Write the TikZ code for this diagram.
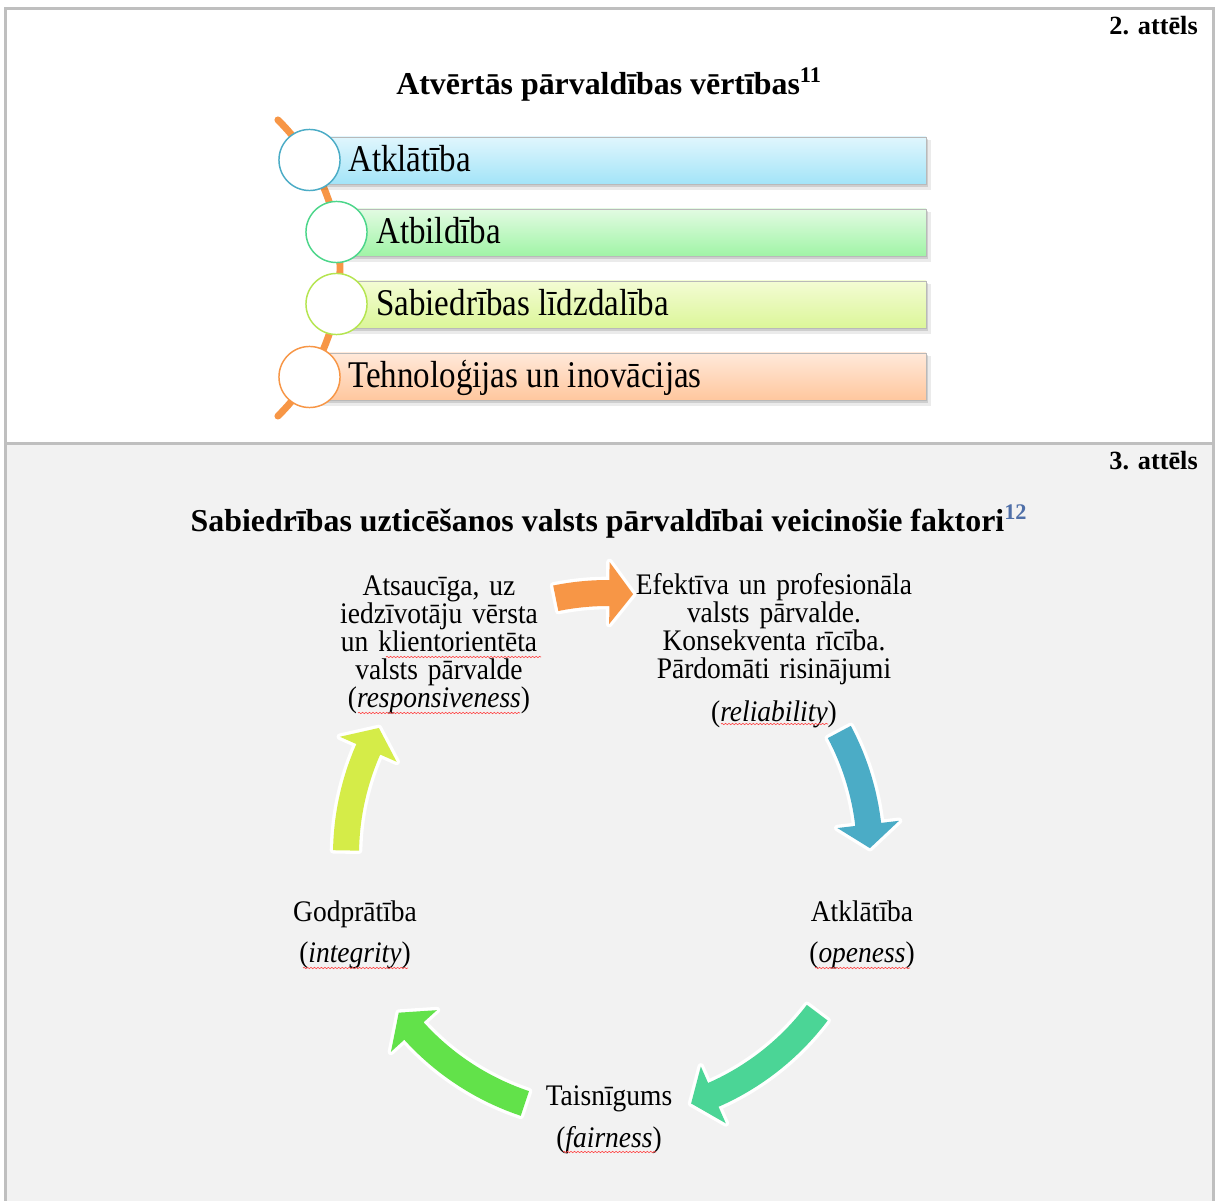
\documentclass[tikz,border=0pt]{standalone}
\usepackage{fontspec}
\setmainfont{Liberation Serif}
\usetikzlibrary{decorations.pathmorphing}
\definecolor{framecol}{HTML}{BFBFBF}
\definecolor{panel}{HTML}{F2F2F2}
\definecolor{cblue}{HTML}{4BACC6}
\definecolor{corange}{HTML}{F79646}
\definecolor{cteal}{HTML}{4BD596}
\definecolor{cgreen}{HTML}{62E24A}
\definecolor{cyellow}{HTML}{D5EC48}
\definecolor{cgreenring}{HTML}{4CD68A}
\definecolor{cyellowring}{HTML}{B5E550}
\definecolor{supblue}{HTML}{4F6FA8}
\definecolor{b1top}{HTML}{E0F6FD}
\definecolor{b1bot}{HTML}{A3E4F8}
\definecolor{b2top}{HTML}{E2FBE2}
\definecolor{b2bot}{HTML}{A0F4A6}
\definecolor{b3top}{HTML}{F3FCD4}
\definecolor{b3bot}{HTML}{DCF699}
\definecolor{b4top}{HTML}{FFE9DA}
\definecolor{b4bot}{HTML}{FFC79E}
\tikzset{
  figlabel/.style={font=\fontsize{19.7}{22}\selectfont\bfseries, inner sep=0pt, anchor=base east},
  figtitle/.style={font=\fontsize{23.9}{28}\selectfont\bfseries, inner sep=0pt, anchor=base},
  boxtext/.style={font=\fontsize{28.3}{30}\selectfont\addfontfeatures{FakeStretch=0.875}, inner sep=0pt, anchor=base west},
  ring/.style={circle, fill=white, line width=1.1pt, minimum size=45.8pt, inner sep=0pt},
  valbox/.style={line width=0.5pt, draw=gray!55},
  cyctext/.style={font=\fontsize{22.4}{21}\selectfont\addfontfeatures{FakeStretch=0.92}, inner sep=0pt, anchor=base, align=center, text width=260pt},
  spell/.style={red!75, line width=0.45pt, decorate, decoration={snake, amplitude=0.5pt, segment length=2.6pt}},
}
% circular arrow: #1 start angle, #2 tip angle, #3 colour
\newcommand\cycarrow[3]{%
  \pgfmathsetmacro\hb{#2-5.2}%
  \path[fill=#3, preaction={draw=white, line width=5pt, line join=round}]
    plot[domain=#1:\hb, samples=30] ({608+249*cos(\x)},{855+249*sin(\x)})
    -- ({608+231*cos(\hb)},{855+231*sin(\hb)})
    -- ({608+262*cos(#2)},{855+262*sin(#2)})
    -- ({608+293*cos(\hb)},{855+293*sin(\hb)})
    -- plot[domain=\hb:#1, samples=30] ({608+275*cos(\x)},{855+275*sin(\x)})
    -- cycle;}
\begin{document}
\begin{tikzpicture}[x=0.75pt,y=-0.75pt]
\useasboundingbox (0,0) rectangle (1215,1201);
\fill[white] (0,0) rectangle (1215,1201);
\fill[panel] (5,444) rectangle (1213,1201);
\draw[framecol, line width=2.25pt] (5,1202) -- (5,9) -- (1213,9) -- (1213,1202);
\draw[framecol, line width=2.25pt] (5,444) -- (1213,444);

% ---------- Figure 2 ----------
\node[figlabel] (lab2) at (1198,35) {2. attēls};
\node[figtitle] (title2) at (609,95) {Atvērtās pārvaldības vērtības\textsuperscript{11}};

% orange spine
\draw[corange, line width=5.2pt, line cap=round]
  plot[domain=-45.5:45.5, samples=50] ({132.4+207.6*cos(\x)},{268+207.6*sin(\x)});

% shadows
\foreach \ya/\yb/\xa in {137/184/312, 209/256/340, 281/328/340, 353/400/312}{
  \fill[black, opacity=0.08] (\xa+2,\ya+3) rectangle (931,\yb+6);
  \fill[black, opacity=0.12] (\xa+1,\ya+2) rectangle (928,\yb+3);
}
\shadedraw[valbox, top color=b1top, bottom color=b1bot] (312,137) rectangle (926,184);
\shadedraw[valbox, top color=b2top, bottom color=b2bot] (340,209) rectangle (926,256);
\shadedraw[valbox, top color=b3top, bottom color=b3bot] (340,281) rectangle (926,328);
\shadedraw[valbox, top color=b4top, bottom color=b4bot] (312,353) rectangle (926,400);

\node[ring, draw=cblue] (c1) at (309.5,160) {};
\node[ring, draw=cgreenring] (c2) at (336.5,232) {};
\node[ring, draw=cyellowring] (c3) at (336.5,304) {};
\node[ring, draw=corange] (c4) at (309.5,377) {};

\node[boxtext] (v1) at (348,172) {Atklātība};
\node[boxtext] (v2) at (376,244) {Atbildība};
\node[boxtext] (v3) at (376,316) {Sabiedrības līdzdalība};
\node[boxtext] (v4) at (348,388) {Tehnoloģijas un inovācijas};

% ---------- Figure 3 ----------
\node[figlabel] (lab3) at (1198,470) {3. attēls};
\node[figtitle] (title3) at (609,532) {Sabiedrības uzticēšanos valsts pārvaldībai veicinošie faktori\textsuperscript{\color{supblue}12}};

\cycarrow{-101.5}{-84.5}{corange}
\cycarrow{-28}{-1.5}{cblue}
\cycarrow{37}{71.5}{cteal}
\cycarrow{108.5}{143}{cgreen}
\cycarrow{181}{209}{cyellow}

\node[cyctext] (resp) at (439,596) {Atsaucīga, uz\\ iedzīvotāju vērsta\\ un klientorientēta\\ valsts pārvalde\\ (\textit{responsiveness})};
\node[cyctext] (reli) at (774,595) {Efektīva un profesionāla\\ valsts pārvalde.\\ Konsekventa rīcība.\\ Pārdomāti risinājumi\\[11pt] (\textit{reliability})};
\node[cyctext] (open) at (862,921) {Atklātība\\[10.5pt] (\textit{openess})};
\node[cyctext] (fair) at (609,1105) {Taisnīgums\\[10.5pt] (\textit{fairness})};
\node[cyctext] (integ) at (355,921) {Godprātība\\[10.5pt] (\textit{integrity})};

% spell-check underlines
\draw[spell] (386,657) -- (541,657);
\draw[spell] (358,713) -- (520,713);
\draw[spell] (721,724) -- (828,724);
\draw[spell] (303,968) -- (408,968);
\draw[spell] (815,968) -- (910,968);
\draw[spell] (563,1152) -- (656,1152);
\end{tikzpicture}
\end{document}
